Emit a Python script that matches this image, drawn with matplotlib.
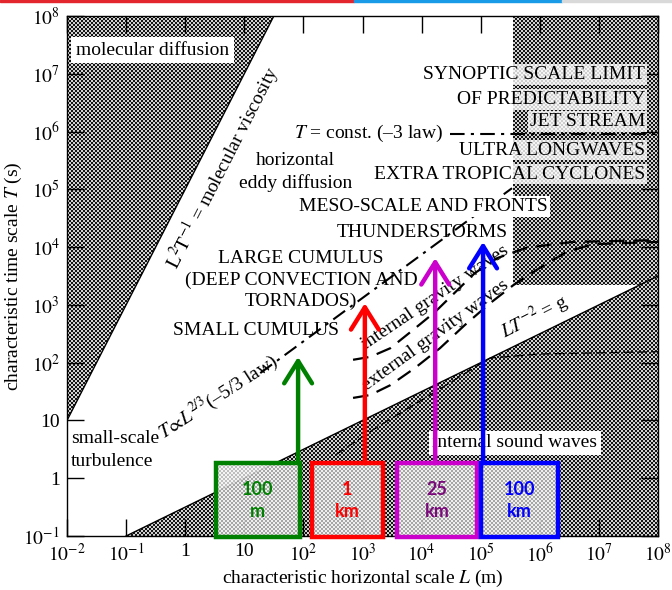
import numpy as np
import matplotlib.pyplot as plt
from matplotlib.patches import Polygon, Rectangle

plt.rcParams['font.family'] = ['Liberation Serif', 'DejaVu Serif']
plt.rcParams['mathtext.fontset'] = 'stix'

# axis ranges and ticks
L_lim = [1e-2, 1e8]
T_lim = [1e-1, 1e8]
x_ticks = [1e-2, 1e-1, 1, 10, 1e2, 1e3, 1e4, 1e5, 1e6, 1e7, 1e8]
x_labels = ['$10^{-2}$', '$10^{-1}$', '1', '10', '$10^2$', '$10^3$',
            '$10^4$', '$10^5$', '$10^6$', '$10^7$', '$10^8$']
y_ticks = [1e-1, 1, 10, 1e2, 1e3, 1e4, 1e5, 1e6, 1e7, 1e8]
y_labels = ['$10^{-1}$', '1', '10', '$10^2$', '$10^3$', '$10^4$',
            '$10^5$', '$10^6$', '$10^7$', '$10^8$']

nu = 1e-5        # molecular viscosity (m^2/s)
g = 10.0         # gravity
synoptic_L = 10**5.55
synoptic_T = 10**3.35

# curves (log10 values)
internal_logL = [2.84, 3.13, 3.47, 3.86, 4.23, 4.57, 4.90, 5.28, 5.78, 6.56, 8.0]
internal_logT = [2.05, 2.10, 2.25, 2.57, 2.88, 3.22, 3.55, 3.81, 3.99, 4.09, 4.12]
external_logL = [2.84, 3.13, 3.47, 3.89, 4.31, 4.73, 5.16, 5.55, 6.00, 6.46, 6.90, 8.0]
external_logT = [1.39, 1.44, 1.61, 1.91, 2.25, 2.65, 3.03, 3.34, 3.64, 3.92, 4.05, 4.09]
sound_logL = [2.54, 3.18, 4.14, 5.16, 6.00, 8.0]
sound_logT = [0.40, 0.84, 1.44, 2.08, 2.15, 2.19]
kolmo_logL = [1.27, 5.53]
kolmo_logT = [1.82, 5.02]
tconst_logL = [4.48, 8.0]
tconst_logT = [5.96, 5.96]

# highlighted scales
scale_names = ['100\nm', '1\nkm', '25\nkm', '100\nkm']
box_logL = [(0.52, 1.94), (2.145, 3.347), (3.584, 4.937), (5.005, 6.308)]
box_logT = (-1.02, 0.26)
arrow_logL = [1.91, 3.04, 4.23, 5.04]
arrow_logT = [2.10, 3.03, 3.81, 4.09]
edge_colors = ['#008000', '#ff0000', '#cc00cc', '#0000ff']
text_colors = ['#008000', '#ff0000', '#7a0a7a', '#0000ff']

W, H = 672, 590
fig = plt.figure(figsize=(W / 100, H / 100), dpi=100)
ax = fig.add_axes([67 / W, (H - 536) / H, 591 / W, 520 / H])
ax.set_xscale('log')
ax.set_yscale('log')
ax.set_xlim(L_lim)
ax.set_ylim(T_lim)
ax.set_autoscale_on(False)

# checker pattern, one array cell per axes pixel
yy, xx = np.mgrid[0:520, 0:591]
checker = ((xx // 2) + (yy // 2)) % 2 == 0


def pattern_fill(verts, hi, lo, z, alpha=1.0):
    poly = Polygon(verts, closed=True, transform=ax.transData)
    im = ax.imshow(np.where(checker, hi, lo), cmap='gray', vmin=0, vmax=1,
                   extent=(0, 1, 0, 1), transform=ax.transAxes,
                   interpolation='nearest', aspect='auto', zorder=z, alpha=alpha)
    im.set_clip_path(poly)


visc_L = [L_lim[0], np.sqrt(nu * T_lim[1]), L_lim[0]]
visc_T = [L_lim[0] ** 2 / nu, T_lim[1], T_lim[1]]
grav_L = [g * T_lim[0] ** 2, L_lim[1], L_lim[1]]
grav_T = [T_lim[0], np.sqrt(L_lim[1] / g), T_lim[0]]
syn_L = [synoptic_L, L_lim[1], L_lim[1], synoptic_L]
syn_T = [synoptic_T, synoptic_T, T_lim[1], T_lim[1]]

pattern_fill(list(zip(visc_L, visc_T)), 0.82, 0.08, 1)
pattern_fill(list(zip(grav_L, grav_T)), 0.82, 0.08, 1)
pattern_fill(list(zip(syn_L, syn_T)), 0.82, 0.08, 1)
ax.plot(visc_L[:2], visc_T[:2], color='k', lw=1, zorder=2)
ax.plot(grav_L[:2], grav_T[:2], color='k', lw=1, zorder=2)

# wave curves and laws
ax.plot(10 ** np.array(internal_logL), 10 ** np.array(internal_logT), color='k',
        lw=1.6, dashes=(7, 4), zorder=2)
ax.plot(10 ** np.array(external_logL), 10 ** np.array(external_logT), color='k',
        lw=1.6, dashes=(7, 4), zorder=2)
ax.plot(10 ** np.array(sound_logL), 10 ** np.array(sound_logT), color='k',
        lw=0.9, dashes=(8, 3), zorder=2)
ax.plot(10 ** np.array(kolmo_logL), 10 ** np.array(kolmo_logT), color='k',
        lw=1.5, dashes=(7, 3, 1.5, 3), zorder=2)
ax.plot(10 ** np.array(tconst_logL), 10 ** np.array(tconst_logT), color='k',
        lw=1.5, dashes=(7, 3, 1.5, 3), zorder=2)

# labels
fs = 14
ax.text(10 ** -0.55, 10 ** 7.41, 'molecular diffusion', fontsize=fs, ha='center',
        va='center', zorder=3,
        bbox=dict(boxstyle='square,pad=0.25', fc='white', ec='none'))
ax.text(10 ** 0.62, 10 ** 5.39, r'$\mathrm{L^2T^{-1}}$ = molecular viscosity',
        fontsize=fs, rotation=63, rotation_mode='anchor', ha='center',
        va='center', zorder=3)
ax.text(10 ** 4.36, 10 ** 5.975, r'$T$ = const. (–3 law)', fontsize=fs,
        ha='right', va='center', zorder=3)
ax.text(10 ** 1.86, 10 ** 5.30, 'horizontal\neddy diffusion', fontsize=fs,
        ha='center', va='center', linespacing=1.3, zorder=3)

semi = dict(boxstyle='square,pad=0.1', fc='white', ec='none', alpha=0.8)
right_labels = [('SYNOPTIC SCALE LIMIT', 6.98), ('OF PREDICTABILITY', 6.55),
                ('JET STREAM', 6.18), ('ULTRA LONGWAVES', 5.68),
                ('EXTRA TROPICAL CYCLONES', 5.265)]
for txt, lt in right_labels:
    ax.text(10 ** 7.78, 10 ** lt, txt, fontsize=fs, ha='right', va='center',
            zorder=3, bbox=semi)
ax.text(10 ** 6.14, 10 ** 4.71, 'MESO-SCALE AND FRONTS', fontsize=fs, ha='right',
        va='center', zorder=3,
        bbox=dict(boxstyle='square,pad=0.1', fc='white', ec='none'))
ax.text(10 ** 5.46, 10 ** 4.26, 'THUNDERSTORMS', fontsize=fs, ha='right',
        va='center', zorder=3)
ax.text(10 ** 1.96, 10 ** 3.43, 'LARGE CUMULUS\n(DEEP CONVECTION AND\nTORNADOS)',
        fontsize=fs, ha='center', va='center', linespacing=1.3, zorder=3)
ax.text(10 ** 1.19, 10 ** 2.56, 'SMALL CUMULUS', fontsize=fs, ha='center',
        va='center', zorder=3)
ax.text(10 ** 0.56, 10 ** 1.41, r'$T\!\propto\!L^{2/3}$(–5/3 law)', fontsize=fs,
        rotation=33, rotation_mode='anchor', ha='center', va='center', zorder=3)
ax.text(10 ** 4.23, 10 ** 3.12, 'internal gravity waves', fontsize=fs,
        rotation=34, rotation_mode='anchor', ha='center', va='center', zorder=3)
ax.text(10 ** 4.23, 10 ** 2.47, 'external gravity waves', fontsize=fs,
        rotation=36, rotation_mode='anchor', ha='center', va='center', zorder=3)
ax.text(10 ** 5.92, 10 ** 2.79, r'$LT^{-2}$ = g', fontsize=fs, rotation=27,
        rotation_mode='anchor', ha='center', va='center', zorder=3)
ax.text(10 ** -1.93, 10 ** 0.49, 'small-scale\nturbulence', fontsize=fs,
        ha='left', va='center', linespacing=1.4, zorder=3)
ax.text(10 ** 5.58, 10 ** 0.61, 'internal sound waves', fontsize=fs,
        ha='center', va='center', zorder=3,
        bbox=dict(boxstyle='square,pad=0.2', fc='white', ec='none'))

# highlighted scales: boxes and arrows
for name, (l0, l1), al, at, ec, tc in zip(scale_names, box_logL, arrow_logL,
                                           arrow_logT, edge_colors, text_colors):
    t0, t1 = box_logT
    verts = [(10 ** l0, 10 ** t0), (10 ** l1, 10 ** t0),
             (10 ** l1, 10 ** t1), (10 ** l0, 10 ** t1)]
    pattern_fill(verts, 0.95, 0.72, 4, alpha=0.9)
    ax.add_patch(Rectangle((10 ** l0, 10 ** t0), 10 ** l1 - 10 ** l0,
                           10 ** t1 - 10 ** t0, fill=False, ec=ec, lw=3.2,
                           zorder=5, clip_on=False))
    ax.annotate('', xy=(10 ** al, 10 ** at), xytext=(10 ** al, 10 ** t1),
                arrowprops=dict(arrowstyle='->,head_length=0.8,head_width=0.5',
                                color=ec, lw=3.2, mutation_scale=20,
                                shrinkA=0, shrinkB=0), zorder=5)
    ax.text(10 ** ((l0 + l1) / 2), 10 ** -0.39, name, fontsize=13,
            family=['Lato', 'DejaVu Sans'], fontweight='bold', color=tc,
            ha='center', va='center', linespacing=1.35, zorder=6)

ax.set_xticks(x_ticks)
ax.set_xticklabels(x_labels)
ax.set_yticks(y_ticks)
ax.set_yticklabels(y_labels)
ax.minorticks_off()
ax.tick_params(direction='in', length=12, width=1, top=True, right=True,
               labelsize=fs)
ax.tick_params(axis='x', pad=5)
ax.tick_params(axis='y', pad=5)
ax.set_xlabel(r'characteristic horizontal scale $L$ (m)', fontsize=fs)
ax.set_ylabel(r'characteristic time scale $T$ (s)', fontsize=fs)
ax.xaxis.set_label_coords(0.5, -0.062)
ax.yaxis.set_label_coords(-0.072, 0.5)
for s in ax.spines.values():
    s.set_linewidth(1)
    s.set_zorder(4)

# coloured header strip
fig.add_artist(Rectangle((0, 1 - 2 / H), 354 / W, 2 / H, transform=fig.transFigure,
                         color='#e3262e'))
fig.add_artist(Rectangle((354 / W, 1 - 2 / H), 208 / W, 2 / H,
                         transform=fig.transFigure, color='#1a9be8'))
fig.add_artist(Rectangle((562 / W, 1 - 2 / H), 110 / W, 2 / H,
                         transform=fig.transFigure, color='#d9d9d9'))

fig.savefig('out.png', dpi=100)
